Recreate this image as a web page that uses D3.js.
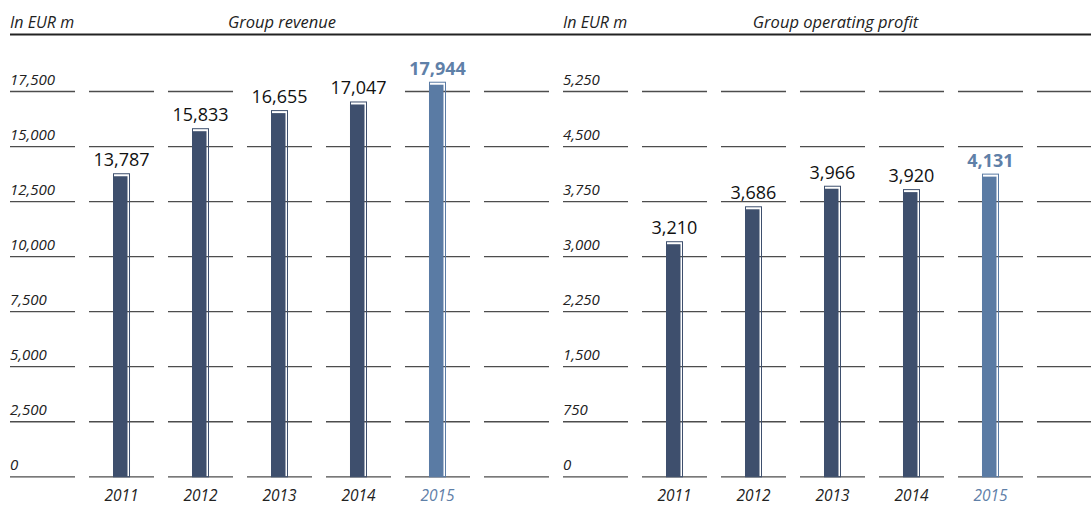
<!DOCTYPE html>
<html>
<head>
<meta charset="utf-8">
<script src="https://cdn.jsdelivr.net/npm/d3@7"></script>
<style>
  html, body { margin: 0; padding: 0; background: #fff; }
  svg { display: block; }
</style>
</head>
<body>
<svg id="chart" width="1091" height="505"></svg>
<script>
const years = ["2011", "2012", "2013", "2014", "2015"];
const revenue = [13787, 15833, 16655, 17047, 17944];
const profit = [3210, 3686, 3966, 3920, 4131];
const revenueTicks = [0, 2500, 5000, 7500, 10000, 12500, 15000, 17500];
const profitTicks = [0, 750, 1500, 2250, 3000, 3750, 4500, 5250];
const unitLabel = "In EUR m";
const titles = ["Group revenue", "Group operating profit"];
const highlightYear = "2015";

const W = 1091, H = 505;
const svg = d3.select("#chart");
const fmt = d3.format(",");
const dark = "#3e4f6d", light = "#5a7ba4", lightText = "#5f80a8";
const italic = "'Open Sans', 'Liberation Sans', sans-serif";

// header rule
svg.append("line").attr("x1", 10).attr("x2", W).attr("y1", 34.5).attr("y2", 34.5)
  .attr("stroke", "#222").attr("stroke-width", 2);

function panel(x0, title, titleX, values, ticks) {
  const g = svg.append("g");
  const domain = ["_lab", ...years, "_end"];
  const x = d3.scaleBand().domain(domain).range([x0, x0 + 539]).paddingInner(0.177).paddingOuter(0);
  const y = d3.scaleLinear().domain([0, ticks[ticks.length - 1]]).range([476.8, 91.5]);

  g.append("text").attr("x", x0).attr("y", 28).text(unitLabel)
    .attr("font-family", italic).attr("font-style", "italic").attr("font-size", 16).attr("fill", "#222");
  g.append("text").attr("x", titleX).attr("y", 28).attr("text-anchor", "middle").text(title)
    .attr("font-family", italic).attr("font-style", "italic").attr("font-size", 16.5).attr("fill", "#222");

  // gridline segments
  ticks.forEach(t => {
    domain.forEach(d => {
      const xs = x(d), xe = Math.min(x(d) + x.bandwidth(), W);
      g.append("line").attr("x1", xs).attr("x2", xe).attr("y1", y(t)).attr("y2", y(t))
        .attr("stroke", "#4d4d4d").attr("stroke-width", 1.3);
    });
    g.append("text").attr("x", x0).attr("y", y(t) - 7).text(fmt(t))
      .attr("font-family", italic).attr("font-style", "italic").attr("font-size", 15).attr("fill", "#222");
  });

  const outW = 17, fillW = 14.5;
  years.forEach((yr, i) => {
    const v = values[i];
    const hi = yr === highlightYear;
    const cx = x(yr) + x.bandwidth() / 2;
    const left = cx - outW / 2;
    const col = hi ? light : dark;
    g.append("rect").attr("x", left + 0.5).attr("y", y(v) + 0.5)
      .attr("width", outW - 1).attr("height", y(0) - y(v) - 0.5)
      .attr("fill", "none").attr("stroke", col).attr("stroke-width", 1);
    g.append("rect").attr("x", left).attr("y", y(v) + 3)
      .attr("width", fillW).attr("height", y(0) - y(v) - 3).attr("fill", col);
    const base = y(v) - 7;
    g.append("rect").attr("x", x(yr)).attr("y", base - 15).attr("width", x.bandwidth())
      .attr("height", 16).attr("fill", "#fff");
    g.append("text").attr("x", cx).attr("y", base).attr("text-anchor", "middle")
      .text(fmt(v))
      .attr("font-family", "'Open Sans', sans-serif").attr("font-size", 18)
      .attr("font-weight", hi ? 700 : 400).attr("fill", hi ? lightText : "#111");
    g.append("text").attr("x", cx).attr("y", 501).attr("text-anchor", "middle").text(yr)
      .attr("font-family", italic).attr("font-style", "italic").attr("font-size", 15.5)
      .attr("fill", hi ? lightText : "#222");
  });
}

panel(10, titles[0], 282, revenue, revenueTicks);
panel(563, titles[1], 835.5, profit, profitTicks);
</script>
</body>
</html>
